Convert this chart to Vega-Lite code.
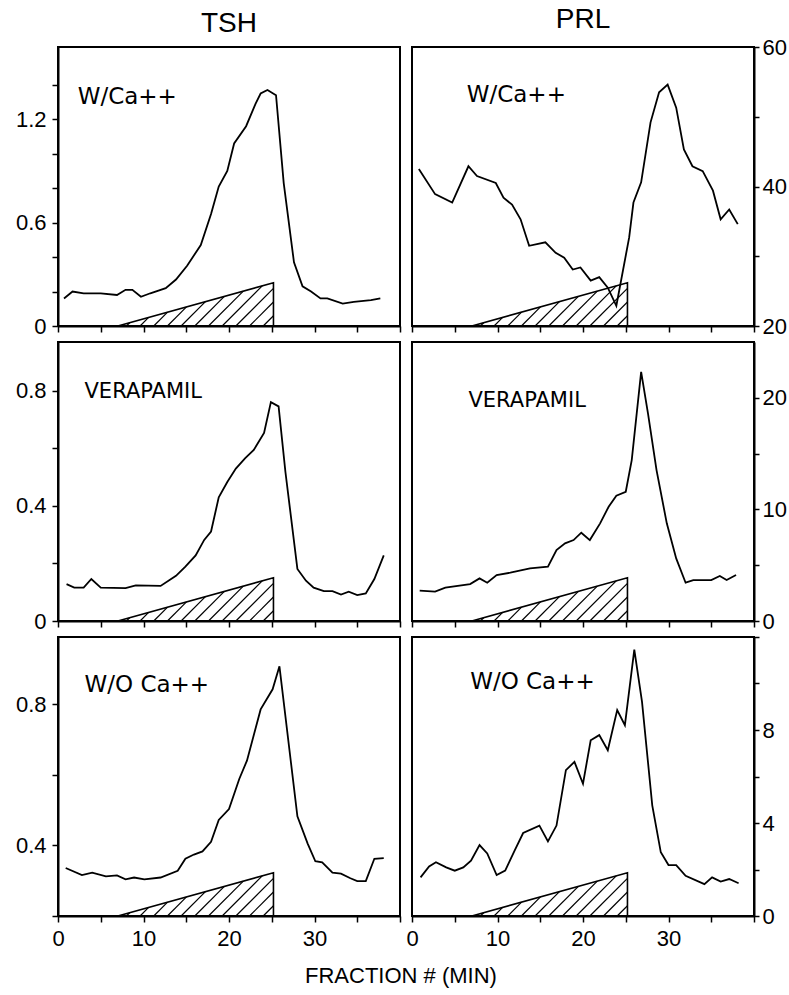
{
  "$schema": "https://vega.github.io/schema/vega-lite/v6.json",
  "background": "white",
  "padding": {"left": 14, "top": 5, "right": 0, "bottom": 5},
  "config": {
    "view": {"stroke": "black", "strokeWidth": 2, "fill": "white"},
    "axis": {"domainColor": "black", "domainWidth": 2, "tickColor": "black", "tickWidth": 1.5, "tickSize": 6, "tickCount": 50, "labelFont": "Liberation Sans", "labelFontSize": 22, "labelColor": "black", "labelPadding": 6, "labelFlush": false, "labelOverlap": false, "grid": false},
    "axisRight": {"tickSize": 5, "labelPadding": 3},
    "title": {"font": "Liberation Sans", "fontWeight": "normal", "color": "black"}
  },
  "title": {"text": "FRACTION # (MIN)", "orient": "bottom", "anchor": "middle", "fontSize": 22, "offset": 16},
  "datasets": {
    "hatch": [
      {"x0": 8.0, "y0": 0, "x1": 8.384, "y1": 0.0118},
      {"x0": 9.6, "y0": 0, "x1": 10.599, "y1": 0.0307},
      {"x0": 11.2, "y0": 0, "x1": 12.814, "y1": 0.0495},
      {"x0": 12.8, "y0": 0, "x1": 15.029, "y1": 0.0684},
      {"x0": 14.4, "y0": 0, "x1": 17.243, "y1": 0.0872},
      {"x0": 16.0, "y0": 0, "x1": 19.458, "y1": 0.1061},
      {"x0": 17.6, "y0": 0, "x1": 21.673, "y1": 0.125},
      {"x0": 19.2, "y0": 0, "x1": 23.888, "y1": 0.1438},
      {"x0": 20.8, "y0": 0, "x1": 25.2, "y1": 0.135},
      {"x0": 22.4, "y0": 0, "x1": 25.2, "y1": 0.0859},
      {"x0": 24.0, "y0": 0, "x1": 25.2, "y1": 0.0368}
    ],
    "ramp": [
      {"i": 0, "x": 7, "h": 0},
      {"i": 1, "x": 25.2, "h": 0.155},
      {"i": 2, "x": 25.2, "h": 0}
    ],
    "tsh_ca": [
      {"fraction": 0.7, "value": 0.16}, {"fraction": 1.7, "value": 0.2}, {"fraction": 3, "value": 0.19}, {"fraction": 5, "value": 0.19},
      {"fraction": 6.9, "value": 0.18}, {"fraction": 7.9, "value": 0.21}, {"fraction": 8.7, "value": 0.21}, {"fraction": 9.7, "value": 0.17},
      {"fraction": 10.8, "value": 0.19}, {"fraction": 12.6, "value": 0.22}, {"fraction": 13.8, "value": 0.27}, {"fraction": 15.1, "value": 0.35},
      {"fraction": 16.7, "value": 0.47}, {"fraction": 17.9, "value": 0.65}, {"fraction": 18.8, "value": 0.81}, {"fraction": 19.8, "value": 0.9},
      {"fraction": 20.6, "value": 1.06}, {"fraction": 22.0, "value": 1.16}, {"fraction": 23.1, "value": 1.29}, {"fraction": 23.7, "value": 1.35},
      {"fraction": 24.5, "value": 1.37}, {"fraction": 25.5, "value": 1.34}, {"fraction": 26.4, "value": 0.83}, {"fraction": 27.6, "value": 0.37},
      {"fraction": 28.6, "value": 0.23}, {"fraction": 29.6, "value": 0.2}, {"fraction": 30.7, "value": 0.16}, {"fraction": 31.5, "value": 0.16},
      {"fraction": 33.3, "value": 0.13}, {"fraction": 34.6, "value": 0.14}, {"fraction": 36.6, "value": 0.15}, {"fraction": 37.7, "value": 0.16}
    ],
    "prl_ca": [
      {"fraction": 0.8, "value": 42.5}, {"fraction": 2.7, "value": 38.9}, {"fraction": 4.7, "value": 37.7}, {"fraction": 6.6, "value": 42.9},
      {"fraction": 7.6, "value": 41.5}, {"fraction": 9.8, "value": 40.5}, {"fraction": 10.7, "value": 38.4}, {"fraction": 11.7, "value": 37.4},
      {"fraction": 12.7, "value": 35.3}, {"fraction": 13.7, "value": 31.5}, {"fraction": 15.6, "value": 32.0}, {"fraction": 16.8, "value": 30.5},
      {"fraction": 17.8, "value": 29.8}, {"fraction": 18.8, "value": 28.1}, {"fraction": 19.7, "value": 28.4}, {"fraction": 20.9, "value": 26.5},
      {"fraction": 21.9, "value": 27.0}, {"fraction": 22.9, "value": 25.5}, {"fraction": 23.9, "value": 22.9}, {"fraction": 25.4, "value": 32.7},
      {"fraction": 25.9, "value": 37.7}, {"fraction": 26.8, "value": 40.6}, {"fraction": 27.9, "value": 49.2}, {"fraction": 28.9, "value": 53.5},
      {"fraction": 29.9, "value": 54.6}, {"fraction": 30.9, "value": 51.3}, {"fraction": 31.8, "value": 45.3}, {"fraction": 32.8, "value": 42.9},
      {"fraction": 34.0, "value": 42.2}, {"fraction": 35.2, "value": 39.4}, {"fraction": 36.1, "value": 35.3}, {"fraction": 37.1, "value": 36.7},
      {"fraction": 38.1, "value": 34.6}
    ],
    "tsh_ver": [
      {"fraction": 1.0, "value": 0.128}, {"fraction": 1.9, "value": 0.116}, {"fraction": 3.0, "value": 0.116}, {"fraction": 3.9, "value": 0.146},
      {"fraction": 5.0, "value": 0.116}, {"fraction": 7.9, "value": 0.114}, {"fraction": 9.1, "value": 0.124}, {"fraction": 12.0, "value": 0.122},
      {"fraction": 13.8, "value": 0.157}, {"fraction": 14.9, "value": 0.189}, {"fraction": 16.1, "value": 0.228}, {"fraction": 17.1, "value": 0.282},
      {"fraction": 17.9, "value": 0.311}, {"fraction": 18.8, "value": 0.43}, {"fraction": 19.8, "value": 0.483}, {"fraction": 20.8, "value": 0.53},
      {"fraction": 21.9, "value": 0.566}, {"fraction": 22.9, "value": 0.595}, {"fraction": 24.1, "value": 0.654}, {"fraction": 24.9, "value": 0.761},
      {"fraction": 25.8, "value": 0.746}, {"fraction": 26.6, "value": 0.518}, {"fraction": 28.0, "value": 0.181}, {"fraction": 29.0, "value": 0.14},
      {"fraction": 29.9, "value": 0.116}, {"fraction": 31.1, "value": 0.104}, {"fraction": 32.1, "value": 0.104}, {"fraction": 33.1, "value": 0.092},
      {"fraction": 34.0, "value": 0.102}, {"fraction": 35.0, "value": 0.09}, {"fraction": 36.0, "value": 0.096}, {"fraction": 37.0, "value": 0.146},
      {"fraction": 38.1, "value": 0.228}
    ],
    "prl_ver": [
      {"fraction": 0.9, "value": 2.72}, {"fraction": 2.7, "value": 2.63}, {"fraction": 3.9, "value": 2.99}, {"fraction": 6.8, "value": 3.31},
      {"fraction": 7.9, "value": 3.82}, {"fraction": 8.8, "value": 3.43}, {"fraction": 9.9, "value": 4.12}, {"fraction": 11.5, "value": 4.33},
      {"fraction": 13.8, "value": 4.72}, {"fraction": 15.9, "value": 4.87}, {"fraction": 16.9, "value": 6.36}, {"fraction": 17.9, "value": 6.96},
      {"fraction": 18.9, "value": 7.25}, {"fraction": 19.8, "value": 7.91}, {"fraction": 20.8, "value": 7.25}, {"fraction": 22.0, "value": 8.75},
      {"fraction": 23.0, "value": 10.24}, {"fraction": 23.9, "value": 11.22}, {"fraction": 25.0, "value": 11.58}, {"fraction": 25.7, "value": 14.42},
      {"fraction": 26.8, "value": 22.33}, {"fraction": 27.6, "value": 18.6}, {"fraction": 28.6, "value": 13.52}, {"fraction": 29.8, "value": 8.75},
      {"fraction": 30.9, "value": 5.61}, {"fraction": 32.0, "value": 3.43}, {"fraction": 32.9, "value": 3.67}, {"fraction": 35.0, "value": 3.67},
      {"fraction": 36.0, "value": 4.03}, {"fraction": 36.8, "value": 3.67}, {"fraction": 37.9, "value": 4.12}
    ],
    "tsh_wo": [
      {"fraction": 0.9, "value": 0.336}, {"fraction": 2.8, "value": 0.316}, {"fraction": 4.0, "value": 0.323}, {"fraction": 5.6, "value": 0.312},
      {"fraction": 6.9, "value": 0.315}, {"fraction": 7.9, "value": 0.304}, {"fraction": 8.9, "value": 0.309}, {"fraction": 10.1, "value": 0.304},
      {"fraction": 12.0, "value": 0.309}, {"fraction": 14.0, "value": 0.328}, {"fraction": 14.9, "value": 0.362}, {"fraction": 15.9, "value": 0.374},
      {"fraction": 16.9, "value": 0.383}, {"fraction": 17.9, "value": 0.41}, {"fraction": 18.8, "value": 0.472}, {"fraction": 20.0, "value": 0.503},
      {"fraction": 21.2, "value": 0.588}, {"fraction": 22.1, "value": 0.64}, {"fraction": 23.7, "value": 0.785}, {"fraction": 25.1, "value": 0.842},
      {"fraction": 25.9, "value": 0.907}, {"fraction": 28.0, "value": 0.482}, {"fraction": 29.2, "value": 0.405}, {"fraction": 30.1, "value": 0.355},
      {"fraction": 30.9, "value": 0.352}, {"fraction": 32.1, "value": 0.323}, {"fraction": 33.1, "value": 0.32}, {"fraction": 34.2, "value": 0.307},
      {"fraction": 35.0, "value": 0.299}, {"fraction": 36.0, "value": 0.299}, {"fraction": 37.0, "value": 0.362}, {"fraction": 38.1, "value": 0.364}
    ],
    "prl_wo": [
      {"fraction": 1.0, "value": 1.66}, {"fraction": 2.0, "value": 2.13}, {"fraction": 2.8, "value": 2.31}, {"fraction": 4.0, "value": 2.09},
      {"fraction": 5.0, "value": 1.95}, {"fraction": 6.0, "value": 2.09}, {"fraction": 6.9, "value": 2.38}, {"fraction": 7.9, "value": 3.05},
      {"fraction": 8.8, "value": 2.69}, {"fraction": 9.9, "value": 1.76}, {"fraction": 10.9, "value": 1.95}, {"fraction": 12.0, "value": 2.81},
      {"fraction": 13.0, "value": 3.57}, {"fraction": 14.9, "value": 3.89}, {"fraction": 15.9, "value": 3.21}, {"fraction": 16.9, "value": 3.89},
      {"fraction": 18.0, "value": 6.27}, {"fraction": 19.0, "value": 6.63}, {"fraction": 20.0, "value": 5.69}, {"fraction": 20.9, "value": 7.56},
      {"fraction": 21.9, "value": 7.78}, {"fraction": 22.9, "value": 7.13}, {"fraction": 24.0, "value": 8.86}, {"fraction": 24.9, "value": 8.21},
      {"fraction": 26.0, "value": 11.46}, {"fraction": 26.9, "value": 9.22}, {"fraction": 28.1, "value": 4.76}, {"fraction": 29.1, "value": 2.74},
      {"fraction": 30.0, "value": 2.19}, {"fraction": 30.9, "value": 2.19}, {"fraction": 32.0, "value": 1.73}, {"fraction": 34.2, "value": 1.37},
      {"fraction": 35.1, "value": 1.66}, {"fraction": 36.1, "value": 1.48}, {"fraction": 37.1, "value": 1.59}, {"fraction": 38.2, "value": 1.41}
    ]
  },
  "columns": 2,
  "spacing": {"row": 16, "column": 12},
  "bounds": "flush",
  "concat": [
    {
      "width": 342, "height": 279,
      "title": {"text": "TSH", "fontSize": 28, "offset": 9, "frame": "group"},
      "layer": [
        {"layer": [
          {"data": {"name": "hatch"}, "mark": {"type": "rule", "color": "black", "strokeWidth": 1.2},
           "encoding": {"x": {"field": "x0", "type": "quantitative", "title": null, "scale": {"domain": [0, 40], "nice": false}}, "x2": {"field": "x1"},
                        "y": {"field": "y0", "type": "quantitative", "title": null, "scale": {"domain": [0, 1], "nice": false}, "axis": null}, "y2": {"field": "y1"}}},
          {"data": {"name": "ramp"}, "mark": {"type": "line", "color": "black", "strokeWidth": 1.6},
           "encoding": {"x": {"field": "x", "type": "quantitative", "title": null, "scale": {"domain": [0, 40], "nice": false}},
                        "y": {"field": "h", "type": "quantitative", "title": null, "scale": {"domain": [0, 1], "nice": false}, "axis": null}, "order": {"field": "i"}}}
        ]},
        {"layer": [
          {"data": {"name": "tsh_ca"}, "mark": {"type": "line", "color": "black", "strokeWidth": 1.8},
           "encoding": {"x": {"field": "fraction", "type": "quantitative", "title": null, "scale": {"domain": [0, 40], "nice": false}, "axis": {"values": [0, 5, 10, 15, 20, 25, 30, 35, 40], "tickCount": 50, "format": "d", "labels": false}},
                        "y": {"field": "value", "type": "quantitative", "title": null, "scale": {"domain": [0, 1.62], "nice": false, "zero": false},
                              "axis": {"orient": "left", "tickCount": 50, "labelOverlap": false, "values": [0, 0.2, 0.4, 0.6, 0.8, 1.0, 1.2, 1.4], "labelExpr": "abs(datum.value) < 0.01 ? '0' : abs(datum.value - 0.6) < 0.01 ? '0.6' : abs(datum.value - 1.2) < 0.01 ? '1.2' : ''"}}}},
          {"data": {"values": [{}]}, "mark": {"type": "text", "align": "left", "baseline": "middle", "font": "DejaVu Sans", "fontSize": 23, "color": "black"},
           "encoding": {"x": {"datum": 2.3}, "y": {"datum": 1.33}, "text": {"value": "W/Ca++"}}}
        ]}
      ],
      "resolve": {"scale": {"y": "independent"}}
    },
    {
      "width": 342, "height": 279,
      "title": {"text": "PRL", "fontSize": 28, "offset": 9, "dy": 7, "frame": "group"},
      "layer": [
        {"layer": [
          {"data": {"name": "hatch"}, "mark": {"type": "rule", "color": "black", "strokeWidth": 1.2},
           "encoding": {"x": {"field": "x0", "type": "quantitative", "title": null, "scale": {"domain": [0, 40], "nice": false}}, "x2": {"field": "x1"},
                        "y": {"field": "y0", "type": "quantitative", "title": null, "scale": {"domain": [0, 1], "nice": false}, "axis": null}, "y2": {"field": "y1"}}},
          {"data": {"name": "ramp"}, "mark": {"type": "line", "color": "black", "strokeWidth": 1.6},
           "encoding": {"x": {"field": "x", "type": "quantitative", "title": null, "scale": {"domain": [0, 40], "nice": false}},
                        "y": {"field": "h", "type": "quantitative", "title": null, "scale": {"domain": [0, 1], "nice": false}, "axis": null}, "order": {"field": "i"}}}
        ]},
        {"layer": [
          {"data": {"name": "prl_ca"}, "mark": {"type": "line", "color": "black", "strokeWidth": 1.8},
           "encoding": {"x": {"field": "fraction", "type": "quantitative", "title": null, "scale": {"domain": [0, 40], "nice": false}, "axis": {"values": [0, 5, 10, 15, 20, 25, 30, 35, 40], "tickCount": 50, "format": "d", "labels": false}},
                        "y": {"field": "value", "type": "quantitative", "title": null, "scale": {"domain": [20, 60], "nice": false, "zero": false},
                              "axis": {"orient": "right", "tickCount": 50, "format": "d", "labelOverlap": false, "values": [20, 30, 40, 50, 60], "labelExpr": "datum.value % 20 == 0 ? datum.label : ''"}}}},
          {"data": {"values": [{}]}, "mark": {"type": "text", "align": "left", "baseline": "middle", "font": "DejaVu Sans", "fontSize": 23, "color": "black"},
           "encoding": {"x": {"datum": 6.4}, "y": {"datum": 53.1}, "text": {"value": "W/Ca++"}}}
        ]}
      ],
      "resolve": {"scale": {"y": "independent"}}
    },
    {
      "width": 342, "height": 279,
      "layer": [
        {"layer": [
          {"data": {"name": "hatch"}, "mark": {"type": "rule", "color": "black", "strokeWidth": 1.2},
           "encoding": {"x": {"field": "x0", "type": "quantitative", "title": null, "scale": {"domain": [0, 40], "nice": false}}, "x2": {"field": "x1"},
                        "y": {"field": "y0", "type": "quantitative", "title": null, "scale": {"domain": [0, 1], "nice": false}, "axis": null}, "y2": {"field": "y1"}}},
          {"data": {"name": "ramp"}, "mark": {"type": "line", "color": "black", "strokeWidth": 1.6},
           "encoding": {"x": {"field": "x", "type": "quantitative", "title": null, "scale": {"domain": [0, 40], "nice": false}},
                        "y": {"field": "h", "type": "quantitative", "title": null, "scale": {"domain": [0, 1], "nice": false}, "axis": null}, "order": {"field": "i"}}}
        ]},
        {"layer": [
          {"data": {"name": "tsh_ver"}, "mark": {"type": "line", "color": "black", "strokeWidth": 1.8},
           "encoding": {"x": {"field": "fraction", "type": "quantitative", "title": null, "scale": {"domain": [0, 40], "nice": false}, "axis": {"values": [0, 5, 10, 15, 20, 25, 30, 35, 40], "tickCount": 50, "format": "d", "labels": false}},
                        "y": {"field": "value", "type": "quantitative", "title": null, "scale": {"domain": [0, 0.97], "nice": false, "zero": false},
                              "axis": {"orient": "left", "tickCount": 50, "labelOverlap": false, "values": [0, 0.2, 0.4, 0.6, 0.8], "labelExpr": "abs(datum.value) < 0.01 ? '0' : abs(datum.value - 0.4) < 0.01 ? '0.4' : abs(datum.value - 0.8) < 0.01 ? '0.8' : ''"}}}},
          {"data": {"values": [{}]}, "mark": {"type": "text", "align": "left", "baseline": "middle", "font": "DejaVu Sans", "fontSize": 21, "color": "black"},
           "encoding": {"x": {"datum": 3.1}, "y": {"datum": 0.797}, "text": {"value": "VERAPAMIL"}}}
        ]}
      ],
      "resolve": {"scale": {"y": "independent"}}
    },
    {
      "width": 342, "height": 279,
      "layer": [
        {"layer": [
          {"data": {"name": "hatch"}, "mark": {"type": "rule", "color": "black", "strokeWidth": 1.2},
           "encoding": {"x": {"field": "x0", "type": "quantitative", "title": null, "scale": {"domain": [0, 40], "nice": false}}, "x2": {"field": "x1"},
                        "y": {"field": "y0", "type": "quantitative", "title": null, "scale": {"domain": [0, 1], "nice": false}, "axis": null}, "y2": {"field": "y1"}}},
          {"data": {"name": "ramp"}, "mark": {"type": "line", "color": "black", "strokeWidth": 1.6},
           "encoding": {"x": {"field": "x", "type": "quantitative", "title": null, "scale": {"domain": [0, 40], "nice": false}},
                        "y": {"field": "h", "type": "quantitative", "title": null, "scale": {"domain": [0, 1], "nice": false}, "axis": null}, "order": {"field": "i"}}}
        ]},
        {"layer": [
          {"data": {"name": "prl_ver"}, "mark": {"type": "line", "color": "black", "strokeWidth": 1.8},
           "encoding": {"x": {"field": "fraction", "type": "quantitative", "title": null, "scale": {"domain": [0, 40], "nice": false}, "axis": {"values": [0, 5, 10, 15, 20, 25, 30, 35, 40], "tickCount": 50, "format": "d", "labels": false}},
                        "y": {"field": "value", "type": "quantitative", "title": null, "scale": {"domain": [0, 25], "nice": false, "zero": false},
                              "axis": {"orient": "right", "tickCount": 50, "format": "d", "labelOverlap": false, "values": [0, 5, 10, 15, 20], "labelExpr": "datum.value % 10 == 0 ? datum.label : ''"}}}},
          {"data": {"values": [{}]}, "mark": {"type": "text", "align": "left", "baseline": "middle", "font": "DejaVu Sans", "fontSize": 21, "color": "black"},
           "encoding": {"x": {"datum": 6.6}, "y": {"datum": 19.7}, "text": {"value": "VERAPAMIL"}}}
        ]}
      ],
      "resolve": {"scale": {"y": "independent"}}
    },
    {
      "width": 342, "height": 279,
      "layer": [
        {"layer": [
          {"data": {"name": "hatch"}, "mark": {"type": "rule", "color": "black", "strokeWidth": 1.2},
           "encoding": {"x": {"field": "x0", "type": "quantitative", "title": null, "scale": {"domain": [0, 40], "nice": false}}, "x2": {"field": "x1"},
                        "y": {"field": "y0", "type": "quantitative", "title": null, "scale": {"domain": [0, 1], "nice": false}, "axis": null}, "y2": {"field": "y1"}}},
          {"data": {"name": "ramp"}, "mark": {"type": "line", "color": "black", "strokeWidth": 1.6},
           "encoding": {"x": {"field": "x", "type": "quantitative", "title": null, "scale": {"domain": [0, 40], "nice": false}},
                        "y": {"field": "h", "type": "quantitative", "title": null, "scale": {"domain": [0, 1], "nice": false}, "axis": null}, "order": {"field": "i"}}}
        ]},
        {"layer": [
          {"data": {"name": "tsh_wo"}, "mark": {"type": "line", "color": "black", "strokeWidth": 1.8},
           "encoding": {"x": {"field": "fraction", "type": "quantitative", "title": null, "scale": {"domain": [0, 40], "nice": false}, "axis": {"values": [0, 5, 10, 15, 20, 25, 30, 35, 40], "tickCount": 50, "format": "d", "labelOverlap": false, "labelPadding": 6, "labelExpr": "datum.value % 10 == 0 && datum.value < 40 ? datum.label : ''"}},
                        "y": {"field": "value", "type": "quantitative", "title": null, "scale": {"domain": [0.2, 0.99], "nice": false, "zero": false},
                              "axis": {"orient": "left", "tickCount": 50, "labelOverlap": false, "values": [0.2, 0.4, 0.6, 0.8], "labelExpr": "abs(datum.value - 0.4) < 0.01 ? '0.4' : abs(datum.value - 0.8) < 0.01 ? '0.8' : ''"}}}},
          {"data": {"values": [{}]}, "mark": {"type": "text", "align": "left", "baseline": "middle", "font": "DejaVu Sans", "fontSize": 23, "color": "black"},
           "encoding": {"x": {"datum": 3.1}, "y": {"datum": 0.854}, "text": {"value": "W/O Ca++"}}}
        ]}
      ],
      "resolve": {"scale": {"y": "independent"}}
    },
    {
      "width": 342, "height": 279,
      "layer": [
        {"layer": [
          {"data": {"name": "hatch"}, "mark": {"type": "rule", "color": "black", "strokeWidth": 1.2},
           "encoding": {"x": {"field": "x0", "type": "quantitative", "title": null, "scale": {"domain": [0, 40], "nice": false}}, "x2": {"field": "x1"},
                        "y": {"field": "y0", "type": "quantitative", "title": null, "scale": {"domain": [0, 1], "nice": false}, "axis": null}, "y2": {"field": "y1"}}},
          {"data": {"name": "ramp"}, "mark": {"type": "line", "color": "black", "strokeWidth": 1.6},
           "encoding": {"x": {"field": "x", "type": "quantitative", "title": null, "scale": {"domain": [0, 40], "nice": false}},
                        "y": {"field": "h", "type": "quantitative", "title": null, "scale": {"domain": [0, 1], "nice": false}, "axis": null}, "order": {"field": "i"}}}
        ]},
        {"layer": [
          {"data": {"name": "prl_wo"}, "mark": {"type": "line", "color": "black", "strokeWidth": 1.8},
           "encoding": {"x": {"field": "fraction", "type": "quantitative", "title": null, "scale": {"domain": [0, 40], "nice": false}, "axis": {"values": [0, 5, 10, 15, 20, 25, 30, 35, 40], "tickCount": 50, "format": "d", "labelOverlap": false, "labelPadding": 6, "labelExpr": "datum.value % 10 == 0 && datum.value < 40 ? datum.label : ''"}},
                        "y": {"field": "value", "type": "quantitative", "title": null, "scale": {"domain": [0, 12], "nice": false, "zero": false},
                              "axis": {"orient": "right", "tickCount": 50, "format": "d", "labelOverlap": false, "values": [0, 2, 4, 6, 8, 10, 12], "labelExpr": "datum.value % 4 == 0 && datum.value < 12 ? datum.label : ''"}}}},
          {"data": {"values": [{}]}, "mark": {"type": "text", "align": "left", "baseline": "middle", "font": "DejaVu Sans", "fontSize": 23, "color": "black"},
           "encoding": {"x": {"datum": 6.8}, "y": {"datum": 10.06}, "text": {"value": "W/O Ca++"}}}
        ]}
      ],
      "resolve": {"scale": {"y": "independent"}}
    }
  ]
}
